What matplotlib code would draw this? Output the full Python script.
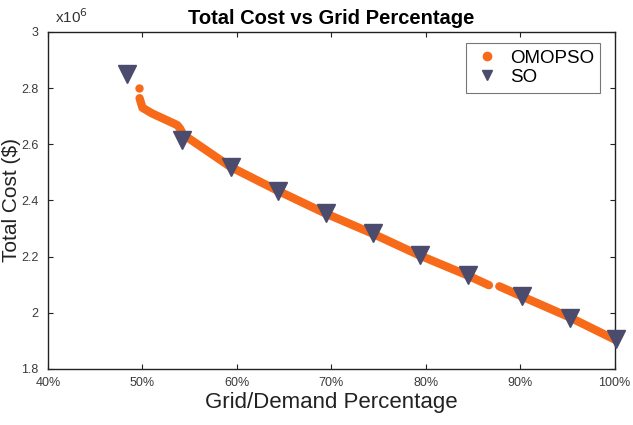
"""Total cost vs grid percentage"""

import matplotlib
matplotlib.use('Agg')
import matplotlib.pyplot as plt
from matplotlib.ticker import FuncFormatter

plt.rcParams['font.family'] = ['Liberation Sans', 'DejaVu Sans']

# OMOPSO front (percent, $); drawn as three pieces
omoDotX = [49.6]
omoDotY = [2.80e6]
omoAX = [49.7, 50.0, 51.0, 53.7, 54.0, 54.3, 59.3, 64.3, 69.3, 74.3, 79.3, 84.3, 86.7]
omoAY = [2.764e6, 2.73e6, 2.71e6, 2.668e6, 2.655e6, 2.635e6, 2.52e6, 2.435e6,
         2.355e6, 2.283e6, 2.205e6, 2.135e6, 2.098e6]
omoBX = [87.8, 90.2, 95.3, 100.0]
omoBY = [2.094e6, 2.058e6, 1.983e6, 1.905e6]

# SO solutions
soX = [48.4, 54.2, 59.4, 64.4, 69.4, 74.4, 79.4, 84.5, 90.2, 95.3, 100.2]
soY = [2.85e6, 2.615e6, 2.52e6, 2.435e6, 2.355e6, 2.283e6, 2.205e6,
       2.135e6, 2.058e6, 1.983e6, 1.905e6]

xTicks = [40, 50, 60, 70, 80, 90, 100]
yTicks = [1.8e6, 2.0e6, 2.2e6, 2.4e6, 2.6e6, 2.8e6, 3.0e6]

orange = '#F76A1A'
slate = '#4A4B6D'


def main():
    fig = plt.figure(figsize=(6.33, 4.25), dpi=100)
    ax = fig.add_axes([0.0758, 0.132, 0.895, 0.793])

    ax.plot(omoDotX, omoDotY, 'o', color=orange, markersize=5, zorder=2)
    ax.plot(omoAX, omoAY, '-', color=orange, linewidth=6,
            solid_capstyle='round', solid_joinstyle='round', zorder=2)
    ax.plot(omoBX, omoBY, '-', color=orange, linewidth=6,
            solid_capstyle='round', solid_joinstyle='round', zorder=2)
    ax.plot(soX, soY, 'v', color=slate, markersize=13, linestyle='none',
            zorder=3, clip_on=False)

    # legend proxies
    h1, = ax.plot([], [], 'o', color=orange, markersize=6, label='OMOPSO')
    h2, = ax.plot([], [], 'v', color=slate, markersize=6.5, label='SO')
    leg = ax.legend(handles=[h1, h2], loc='upper right', fontsize=13.5,
                    frameon=True, fancybox=False, edgecolor='#555555',
                    borderpad=0.35, handletextpad=0.4, labelspacing=0.12,
                    handlelength=1.6, borderaxespad=0,
                    bbox_to_anchor=(0.975, 0.967))
    leg.get_frame().set_linewidth(0.8)

    ax.set_xlim(40, 100)
    ax.set_ylim(1.8e6, 3.0e6)
    ax.set_xticks(xTicks)
    ax.set_yticks(yTicks)
    ax.xaxis.set_major_formatter(FuncFormatter(lambda v, p: '{:.0f}%'.format(v)))
    ax.yaxis.set_major_formatter(FuncFormatter(lambda v, p: '{:g}'.format(round(v / 1e6, 1))))
    ax.tick_params(direction='in', top=True, right=True, length=3.5,
                   labelsize=9, labelcolor='#3a3a3a', color='#222222')
    ax.tick_params(axis='x', pad=6)
    ax.tick_params(axis='y', pad=7)
    for s in ax.spines.values():
        s.set_color('#222222')
        s.set_linewidth(1.0)

    ax.set_title('Total Cost vs Grid Percentage', fontsize=14.5, fontweight='bold', pad=5.5)
    ax.set_xlabel('Grid/Demand Percentage', fontsize=16, labelpad=2, color='#222222')
    ax.set_ylabel('Total Cost ($)', fontsize=15, color='#222222')
    ax.yaxis.set_label_coords(-0.047, 0.5)
    ax.text(0.012, 1.027, r'x10$^{6}$', transform=ax.transAxes, fontsize=11,
            color='#333333', ha='left', va='baseline')

    fig.savefig('out.png', dpi=100)


if __name__ == "__main__":
    main()
